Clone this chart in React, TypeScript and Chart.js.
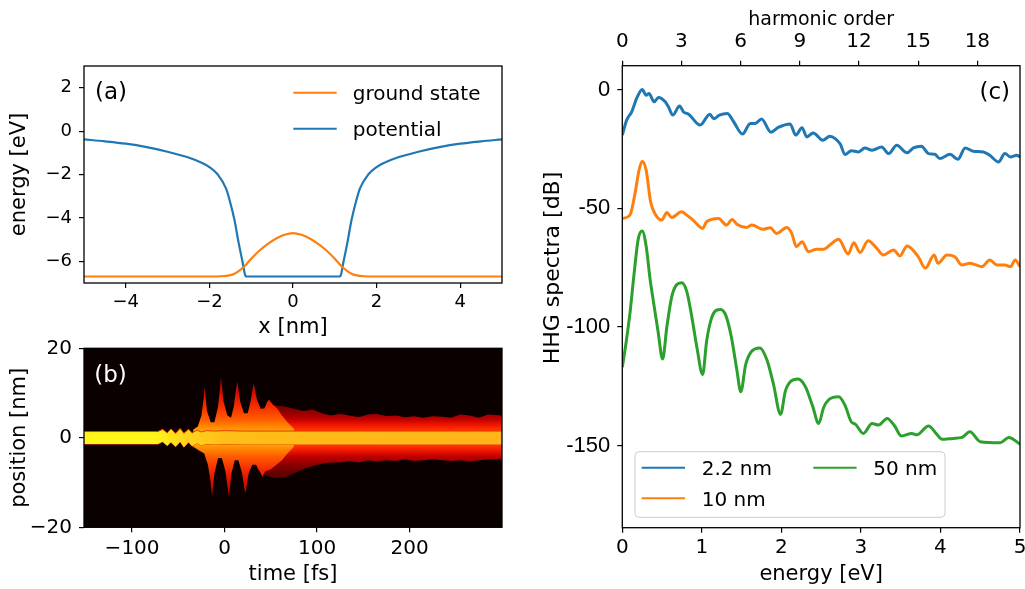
import React, { useEffect, useRef } from "react";
import { Chart, registerables } from "chart.js";

Chart.register(...registerables);

// ---------------- Panel (a): potential and ground state ----------------
const potentialX = [-5, -4.5, -4, -3.5, -3, -2.5, -2.2, -2, -1.8, -1.6, -1.5, -1.4, -1.3, -1.2, -1.15, -1.12, 1.12, 1.15, 1.2, 1.3, 1.4, 1.5, 1.6, 1.8, 2, 2.2, 2.5, 3, 3.5, 4, 4.5, 5];
const potentialY = [-0.38, -0.47, -0.58, -0.74, -0.95, -1.22, -1.45, -1.66, -2.0, -2.65, -3.3, -4.1, -5.15, -6.1, -6.6, -6.7, -6.7, -6.6, -6.1, -5.15, -4.1, -3.3, -2.65, -2.0, -1.66, -1.45, -1.22, -0.95, -0.74, -0.58, -0.47, -0.38];
const groundX = [-5, -2, -1.7, -1.5, -1.4, -1.3, -1.2, -1.1, -1.0, -0.8, -0.6, -0.4, -0.2, 0, 0.2, 0.4, 0.6, 0.8, 1.0, 1.1, 1.2, 1.3, 1.4, 1.5, 1.7, 2, 5];
const groundY = [-6.7, -6.7, -6.69, -6.64, -6.57, -6.45, -6.3, -6.1, -5.88, -5.5, -5.2, -4.95, -4.78, -4.7, -4.78, -4.95, -5.2, -5.5, -5.88, -6.1, -6.3, -6.45, -6.57, -6.64, -6.69, -6.7, -6.7];
const aXTicks = [-4, -2, 0, 2, 4];
const aYTicks = [-6, -4, -2, 0, 2];

// ---------------- Panel (b): wave-packet density envelopes ----------------
const coreT = [-152, -72, -67, -62, -58, -53, -48, -44, -39, -35, -30, -25, -20, -10, 0, 20, 50, 100, 150, 200, 250, 300];
const coreUp = [1.4, 1.4, 1.9, 1.1, 2.0, 1.0, 2.1, 1.0, 1.9, 1.1, 1.7, 1.3, 1.6, 1.5, 1.6, 1.5, 1.5, 1.5, 1.5, 1.5, 1.5, 1.5];
const coreLow = [-1.4, -1.4, -0.9, -1.8, -1.0, -2.0, -0.9, -2.1, -1.0, -1.9, -1.2, -1.7, -1.4, -1.5, -1.4, -1.5, -1.5, -1.5, -1.5, -1.5, -1.5, -1.5];
const flameUpT = [-34, -29, -25, -22.5, -21.5, -19, -15, -11, -7, -5, -4, -1, 3, 7, 10, 12.5, 13.7, 17, 21, 25, 28, 30.5, 31.5, 35, 39, 43, 46, 48, 52, 57, 62, 68, 75];
const flameUp = [1.8, 2.5, 5, 9, 11.3, 6, 3.5, 3.5, 7, 11, 13.7, 8, 5, 4.5, 7, 11, 12.5, 8, 5.5, 5.5, 8, 11, 12.2, 8.5, 6.5, 6.5, 8, 8.5, 7.5, 6.5, 5, 3.5, 2];
const flameLowT = [-34, -28, -22, -18, -15, -13.5, -11, -7, -3, 1, 3.5, 4.7, 7.5, 11, 15, 19, 21.5, 22.7, 26, 30, 34, 38, 41, 44, 50, 56, 62, 68, 75];
const flameLow = [-2, -2.8, -3.5, -6, -10, -13.2, -8, -4.5, -4.5, -7.5, -11.5, -13.2, -8, -5, -5, -8, -11.5, -12.4, -8, -6, -6, -7.5, -8.7, -7.5, -7, -6, -5, -3.5, -2];
const tailT = [35, 45, 55, 65, 75, 85, 95, 105, 115, 125, 135, 145, 155, 165, 175, 185, 195, 205, 215, 225, 235, 245, 255, 265, 275, 285, 300];
const tailUp = [6.0, 7.0, 7.2, 7.0, 6.5, 6.0, 6.3, 5.5, 5.0, 5.3, 5.0, 4.6, 5.2, 5.3, 4.8, 5.0, 4.6, 4.8, 4.5, 4.8, 4.7, 4.5, 5.2, 5.0, 4.5, 5.2, 5.0];
const tailLow = [-7.0, -8.5, -9.0, -8.8, -8.0, -7.0, -6.3, -5.8, -5.5, -5.5, -5.2, -5.5, -5.0, -5.3, -5.0, -5.2, -4.8, -5.2, -5.0, -4.8, -5.0, -5.2, -5.0, -5.3, -5.0, -4.8, -4.8];
const bXTicks = [-100, 0, 100, 200];
const bYTicks = [-20, 0, 20];

// ---------------- Panel (c): HHG spectra ----------------
const blueE = [0, 0.055, 0.118, 0.18, 0.25, 0.30, 0.335, 0.40, 0.455, 0.54, 0.58, 0.635, 0.72, 0.77, 0.83, 0.98, 1.10, 1.15, 1.22, 1.32, 1.40, 1.51, 1.61, 1.67, 1.75, 1.87, 1.96, 2.11, 2.18, 2.26, 2.32, 2.40, 2.52, 2.61, 2.68, 2.74, 2.80, 2.88, 2.97, 3.05, 3.14, 3.26, 3.35, 3.45, 3.58, 3.66, 3.76, 3.85, 3.93, 3.99, 4.12, 4.22, 4.31, 4.41, 4.54, 4.62, 4.73, 4.81, 4.88, 4.96, 5.0];
const blueDb = [-19.2, -12.9, -9.4, -3.8, 0, -2.4, -1.7, -5.2, -3.4, -5.2, -7.3, -10.8, -7.0, -9.5, -10.3, -15.0, -10.4, -12.3, -10.8, -10.1, -13.6, -18.8, -14.3, -14.3, -12.4, -18.0, -16.0, -14.5, -19.2, -16.1, -20.0, -18.3, -21.4, -19.7, -20.8, -23.0, -27.4, -25.8, -26.3, -24.6, -25.6, -24.2, -27.0, -23.5, -26.7, -24.6, -23.9, -27.0, -27.3, -29.1, -27.3, -29.4, -24.6, -26.0, -26.3, -27.7, -30.5, -27.0, -28.4, -27.7, -28.4];
const orangeE = [0, 0.096, 0.16, 0.21, 0.25, 0.30, 0.356, 0.42, 0.495, 0.56, 0.62, 0.746, 0.81, 0.89, 1.01, 1.06, 1.21, 1.31, 1.38, 1.44, 1.56, 1.63, 1.77, 1.86, 1.94, 2.07, 2.13, 2.19, 2.26, 2.34, 2.44, 2.53, 2.61, 2.72, 2.84, 2.91, 2.99, 3.09, 3.20, 3.28, 3.41, 3.49, 3.58, 3.72, 3.81, 3.92, 3.97, 4.08, 4.18, 4.27, 4.37, 4.52, 4.62, 4.71, 4.81, 4.88, 4.94, 5.0];
const orangeDb = [-54.3, -52.9, -43.8, -34.0, -30.2, -34.0, -47.3, -52.9, -55.0, -51.8, -53.9, -51.5, -52.9, -55.0, -58.5, -55.7, -54.3, -57.1, -54.7, -56.7, -58.1, -57.1, -58.9, -58.2, -60.6, -58.1, -60.6, -66.2, -64.1, -68.3, -67.3, -67.3, -65.5, -63.1, -69.3, -64.5, -68.6, -63.7, -66.9, -69.7, -67.6, -70.1, -65.9, -70.4, -75.3, -69.7, -73.2, -69.7, -70.4, -73.9, -73.2, -74.6, -71.8, -73.9, -73.9, -74.6, -71.8, -74.6];
const greenE = [0, 0.05, 0.096, 0.15, 0.2, 0.25, 0.3, 0.35, 0.39, 0.45, 0.507, 0.56, 0.62, 0.68, 0.746, 0.81, 0.87, 0.94, 1.01, 1.06, 1.12, 1.18, 1.237, 1.3, 1.37, 1.44, 1.49, 1.55, 1.62, 1.73, 1.82, 1.9, 1.99, 2.05, 2.12, 2.21, 2.3, 2.39, 2.47, 2.53, 2.6, 2.72, 2.8, 2.88, 2.93, 3.03, 3.14, 3.22, 3.33, 3.42, 3.51, 3.64, 3.70, 3.85, 3.95, 4.02, 4.16, 4.27, 4.37, 4.50, 4.75, 4.86, 5.0];
const greenDb = [-117, -106, -94.3, -77, -63, -59.6, -66, -80, -89, -102, -113.5, -100, -87.5, -82.3, -81.4, -85, -95, -109, -120, -106, -96.5, -93, -92.6, -95, -104, -118, -127.3, -116, -110.5, -108.8, -114, -124, -136.8, -127, -122.8, -121.9, -125, -133, -140.6, -134, -130.5, -129.4, -133, -140, -140.9, -144.8, -140.6, -141.3, -138.5, -141.5, -145.9, -144.8, -145.4, -141.7, -145, -147.3, -146.9, -146.5, -144.1, -148.3, -148.7, -146.5, -149.3];
const cXTicks = [0, 1, 2, 3, 4, 5];
const cTopTicks = [0, 3, 6, 9, 12, 15, 18];
const cYTicks = [-150, -100, -50, 0];
const photonEnergy = 0.248; // eV per harmonic order
const energyMax = 5;

// ---------------- styling ----------------
const BLUE = "#1f77b4";
const ORANGE = "#ff7f0e";
const GREEN = "#2ca02c";
const DEJAVU = "'DejaVu Sans', sans-serif";
const LIB = "'Liberation Sans', Arial, sans-serif";

const pts = (xs: number[], ys: number[]) => xs.map((x, i) => ({ x, y: ys[i] }));
const withMinus = (v: any) => String(v).replace("-", "\u2212");

function axis(o: any) {
  return {
    type: "linear",
    position: o.position,
    min: o.min,
    max: o.max,
    bounds: "data",
    afterBuildTicks: (s: any) => {
      s.ticks = o.ticks.map((v: number) => ({ value: v }));
    },
    afterFit: (s: any) => {
      if (s.isHorizontal()) s.height = o.size;
      else s.width = o.size;
      s.paddingLeft = 0;
      s.paddingRight = 0;
      s.paddingTop = 0;
      s.paddingBottom = 0;
    },
    grid: {
      display: true,
      drawOnChartArea: false,
      drawTicks: true,
      tickLength: 5,
      tickColor: "#000",
      tickWidth: 1.2,
      lineWidth: 1.2,
      color: "#000",
    },
    border: { display: false },
    ticks: {
      color: "#000",
      font: { family: o.tickFamily || DEJAVU, size: o.tickFont },
      padding: o.tickPad,
      autoSkip: false,
      maxRotation: 0,
      minRotation: 0,
      callback: (v: any) => (o.fmt ? o.fmt(v) : withMinus(v)),
    },
    title: {
      display: !!o.title,
      text: o.title || "",
      color: "#000",
      font: { family: DEJAVU, size: o.titleFont || 20 },
      padding: o.titlePad || 0,
    },
  };
}

const common = {
  responsive: false,
  maintainAspectRatio: false,
  animation: false,
  devicePixelRatio: 1,
  events: [],
};

function framePlugin(bg?: string) {
  return {
    id: "frame",
    beforeDraw(chart: any) {
      if (!bg) return;
      const { ctx, chartArea: a } = chart;
      ctx.save();
      ctx.fillStyle = bg;
      ctx.fillRect(a.left, a.top, a.right - a.left, a.bottom - a.top);
      ctx.restore();
    },
    afterDraw(chart: any) {
      const { ctx, chartArea: a } = chart;
      ctx.save();
      ctx.strokeStyle = "#000";
      ctx.lineWidth = 1.3;
      ctx.strokeRect(a.left, a.top, a.right - a.left, a.bottom - a.top);
      ctx.restore();
    },
  };
}

function legendLine(ctx: any, x1: number, x2: number, y: number, color: string, text: string, tx: number, font: string) {
  ctx.strokeStyle = color;
  ctx.lineWidth = 2;
  ctx.beginPath();
  ctx.moveTo(x1, y);
  ctx.lineTo(x2, y);
  ctx.stroke();
  ctx.fillStyle = "#000";
  ctx.font = font;
  ctx.textBaseline = "alphabetic";
  ctx.textAlign = "left";
  ctx.fillText(text, tx, y + 7.3);
}

function buildA(): any {
  const line = (label: string, xs: number[], ys: number[], color: string) => ({
    label,
    data: pts(xs, ys),
    borderColor: color,
    backgroundColor: color,
    borderWidth: 2.2,
    pointRadius: 0,
    cubicInterpolationMode: "monotone",
    fill: false,
  });
  const decor = {
    id: "decorA",
    afterDraw(chart: any) {
      const { ctx, chartArea: a } = chart;
      ctx.save();
      ctx.fillStyle = "#000";
      ctx.font = `23px ${DEJAVU}`;
      ctx.textBaseline = "alphabetic";
      ctx.fillText("(a)", a.left + 11, a.top + 32.7);
      const ds = chart.data.datasets;
      const rows = [26.7, 62.7];
      ds.forEach((d: any, i: number) => {
        legendLine(ctx, a.left + 209.3, a.left + 252.7, a.top + rows[i], d.borderColor, d.label, a.left + 268.7, `20px ${DEJAVU}`);
      });
      ctx.restore();
    },
  };
  return {
    type: "line",
    data: {
      datasets: [
        line("ground state", groundX, groundY, ORANGE),
        line("potential", potentialX, potentialY, BLUE),
      ],
    },
    options: {
      ...common,
      layout: { padding: { left: 0, top: 16, right: 13, bottom: 0 } },
      plugins: { legend: { display: false }, tooltip: { enabled: false } },
      scales: {
        x: axis({ position: "bottom", min: -5, max: 5, ticks: aXTicks, size: 59, tickFont: 18, tickPad: 4, title: "x [nm]", titleFont: 21, titlePad: { top: 0, bottom: 2 } }),
        y: axis({ position: "left", min: -7, max: 3, ticks: aYTicks, size: 84, tickFont: 18, tickPad: 7, title: "energy [eV]", titleFont: 21, titlePad: { top: 7, bottom: 0 } }),
      },
    },
    plugins: [framePlugin(), decor],
  };
}

function vGradient(stops: [number, string][]) {
  return (c: any) => {
    const chart = c.chart;
    const { chartArea, scales } = chart;
    if (!chartArea || !scales.y) return "rgba(0,0,0,0)";
    const y1 = scales.y.getPixelForValue(20);
    const y2 = scales.y.getPixelForValue(-20);
    const g = chart.ctx.createLinearGradient(0, y1, 0, y2);
    stops.forEach(([v, col]) => {
      g.addColorStop((20 - v) / 40, col);
      g.addColorStop((20 + v) / 40, col);
    });
    return g;
  };
}

function hGradient(stops: [number, string][]) {
  return (c: any) => {
    const chart = c.chart;
    const { chartArea, scales } = chart;
    if (!chartArea || !scales.x) return "rgba(0,0,0,0)";
    const x1 = scales.x.getPixelForValue(-152);
    const x2 = scales.x.getPixelForValue(300);
    const g = chart.ctx.createLinearGradient(x1, 0, x2, 0);
    stops.forEach(([v, col]) => g.addColorStop((v + 152) / 452, col));
    return g;
  };
}

function buildB(): any {
  const flameFill = vGradient([
    [0, "rgb(255,215,30)"],
    [2, "rgb(255,150,0)"],
    [4, "rgb(255,95,0)"],
    [7, "rgb(245,45,0)"],
    [10, "rgb(215,12,0)"],
    [13, "rgb(170,0,0)"],
    [20, "rgb(90,0,0)"],
  ]);
  const tailFill = vGradient([
    [0, "rgb(255,90,0)"],
    [2, "rgb(255,45,0)"],
    [3, "rgb(235,20,0)"],
    [4.2, "rgb(190,0,0)"],
    [6, "rgb(140,0,0)"],
    [8, "rgb(100,0,0)"],
    [20, "rgb(40,0,0)"],
  ]);
  const coreFill = hGradient([
    [-152, "rgb(255,245,25)"],
    [-75, "rgb(255,245,25)"],
    [-45, "rgb(255,215,30)"],
    [0, "rgb(255,190,25)"],
    [300, "rgb(255,180,25)"],
  ]);
  const area = (label: string, xs: number[], ys: number[], bg: any, fill: any, border?: string) => ({
    label,
    data: pts(xs, ys),
    backgroundColor: bg,
    borderColor: border || "rgba(0,0,0,0)",
    borderWidth: border ? 1 : 0,
    pointRadius: 0,
    tension: 0,
    fill,
  });
  const decor = {
    id: "decorB",
    afterDraw(chart: any) {
      const { ctx, chartArea: a } = chart;
      ctx.save();
      ctx.fillStyle = "#fff";
      ctx.font = `23px ${DEJAVU}`;
      ctx.textBaseline = "alphabetic";
      ctx.fillText("(b)", a.left + 10.3, a.top + 33.7);
      ctx.restore();
    },
  };
  return {
    type: "line",
    data: {
      datasets: [
        area("core upper", coreT, coreUp, coreFill, "+1", "rgb(230,60,0)"),
        area("core lower", coreT, coreLow, coreFill, false, "rgb(230,60,0)"),
        area("burst upper", flameUpT, flameUp, flameFill, "origin"),
        area("burst lower", flameLowT, flameLow, flameFill, "origin"),
        area("tail upper", tailT, tailUp, tailFill, "origin"),
        area("tail lower", tailT, tailLow, tailFill, "origin"),
      ],
    },
    options: {
      ...common,
      layout: { padding: { left: 0, top: 18.3, right: 13, bottom: 0 } },
      plugins: { legend: { display: false }, tooltip: { enabled: false } },
      scales: {
        x: axis({ position: "bottom", min: -152, max: 300, ticks: bXTicks, size: 61.7, tickFont: 20, tickPad: 4.5, title: "time [fs]", titleFont: 21, titlePad: { top: 0, bottom: 1.5 } }),
        y: axis({ position: "left", min: -20, max: 20, ticks: bYTicks, size: 84, tickFont: 20, tickPad: 7, title: "position [nm]", titleFont: 21, titlePad: { top: 7, bottom: 0 } }),
      },
    },
    plugins: [framePlugin("rgb(11,0,0)"), decor],
  };
}

function buildC(): any {
  const line = (label: string, xs: number[], ys: number[], color: string) => ({
    label,
    data: pts(xs, ys),
    borderColor: color,
    backgroundColor: color,
    borderWidth: 3,
    pointRadius: 0,
    cubicInterpolationMode: "monotone",
    fill: false,
    xAxisID: "x",
    yAxisID: "y",
  });
  const decor = {
    id: "decorC",
    afterDraw(chart: any) {
      const { ctx, chartArea: a } = chart;
      ctx.save();
      ctx.fillStyle = "#000";
      ctx.font = `23px ${DEJAVU}`;
      ctx.textAlign = "right";
      ctx.textBaseline = "alphabetic";
      ctx.fillText("(c)", a.right - 10, a.top + 33);
      ctx.save();
      ctx.translate(23.3, 268);
      ctx.rotate(-Math.PI / 2);
      ctx.textAlign = "center";
      ctx.textBaseline = "middle";
      ctx.font = `22px ${DEJAVU}`;
      ctx.fillText("HHG spectra [dB]", 0, 0);
      ctx.restore();
      const fx = a.left + 12.7;
      const fy = a.bottom - 76;
      ctx.fillStyle = "rgba(255,255,255,0.8)";
      ctx.strokeStyle = "#cccccc";
      ctx.lineWidth = 1;
      ctx.beginPath();
      ctx.roundRect(fx, fy, 310, 65.6, 4);
      ctx.fill();
      ctx.stroke();
      const ds = chart.data.datasets;
      const slots = [
        [6.7, 16],
        [6.7, 46.6],
        [178.3, 16],
      ];
      ds.forEach((d: any, i: number) => {
        const [dx, dy] = slots[i];
        legendLine(ctx, fx + dx, fx + dx + 43.3, fy + dy, d.borderColor, d.label, fx + dx + 60, `20px ${DEJAVU}`);
      });
      ctx.restore();
    },
  };
  return {
    type: "line",
    data: {
      datasets: [
        line("2.2 nm", blueE, blueDb, BLUE),
        line("10 nm", orangeE, orangeDb, ORANGE),
        line("50 nm", greenE, greenDb, GREEN),
      ],
    },
    options: {
      ...common,
      layout: { padding: { left: 0, top: 0, right: 5, bottom: 0 } },
      plugins: { legend: { display: false }, tooltip: { enabled: false } },
      scales: {
        x: axis({ position: "bottom", min: 0, max: energyMax, ticks: cXTicks, size: 61.3, tickFont: 20, tickPad: 3, title: "energy [eV]", titleFont: 21, titlePad: { top: 0, bottom: 2 } }),
        xTop: axis({ position: "top", min: 0, max: energyMax / photonEnergy, ticks: cTopTicks, size: 65.7, tickFont: 20, tickPad: 7, title: "harmonic order", titleFont: 19, titlePad: { top: 9, bottom: 0 } }),
        y: axis({ position: "left", min: -184.5, max: 10, ticks: cYTicks, size: 92.3, tickFont: 22, tickFamily: LIB, tickPad: 7, fmt: (v: any) => String(v) }),
      },
    },
    plugins: [framePlugin(), decor],
  };
}

function ChartCanvas(props: { left: number; top: number; width: number; height: number; build: () => any }) {
  const ref = useRef<HTMLCanvasElement>(null);
  useEffect(() => {
    const chart = new Chart(ref.current as HTMLCanvasElement, props.build());
    return () => chart.destroy();
  }, []);
  return (
    <div style={{ position: "absolute", left: props.left, top: props.top, width: props.width, height: props.height }}>
      <canvas ref={ref} width={props.width} height={props.height} style={{ display: "block", width: props.width, height: props.height }} />
    </div>
  );
}

export default function App() {
  return (
    <div style={{ position: "fixed", left: 0, top: 0, width: 1025, height: 589, background: "#fff", overflow: "hidden" }}>
      <ChartCanvas left={0} top={50} width={515} height={292} build={buildA} />
      <ChartCanvas left={0} top={330} width={515} height={259} build={buildB} />
      <ChartCanvas left={530} top={0} width={495} height={589} build={buildC} />
    </div>
  );
}
